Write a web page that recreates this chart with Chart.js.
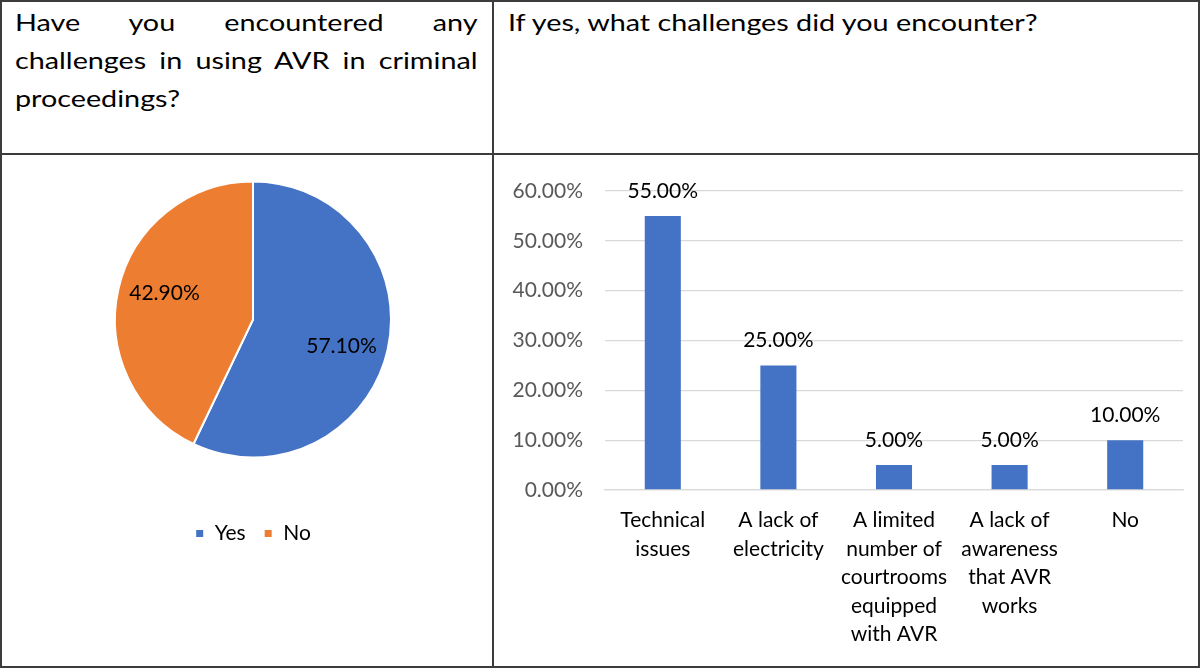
<!DOCTYPE html>
<html>
<head>
<meta charset="utf-8">
<script src="https://cdn.jsdelivr.net/npm/chart.js@4.4.1/dist/chart.umd.min.js"></script>
<style>
  html, body { margin:0; padding:0; background:#fff; }
  body { width:1200px; height:668px; position:relative; overflow:hidden; font-family: Lato, "Noto Sans", sans-serif; }
  .line { position:absolute; background:#3c3c3c; z-index:5; }
  .hdr { position:absolute; font-size:23px; line-height:38px; color:#000; transform:scaleX(1.25); transform-origin:0 0; }
  #hdrL { left:15px; top:3px; width:370px; text-align:justify; text-align-last:left; }
  #hdrR { left:508px; top:3px; width:540px; white-space:nowrap; }
  canvas { position:absolute; }
</style>
</head>
<body>
<div class="line" style="left:0;top:0;width:1200px;height:2px"></div>
<div class="line" style="left:0;top:666px;width:1200px;height:2px"></div>
<div class="line" style="left:0;top:0;width:2px;height:668px"></div>
<div class="line" style="left:1198px;top:0;width:2px;height:668px"></div>
<div class="line" style="left:492px;top:0;width:2px;height:668px"></div>
<div class="line" style="left:0;top:153px;width:1200px;height:2px"></div>

<div class="hdr" id="hdrL">Have you encountered any challenges in using AVR in criminal proceedings?</div>
<div class="hdr" id="hdrR">If yes, what challenges did you encounter?</div>

<div style="position:absolute;left:2px;top:155px;width:490px;height:511px"><canvas id="pie"></canvas></div>
<div style="position:absolute;left:494px;top:155px;width:703px;height:511px"><canvas id="bar"></canvas></div>

<script>
// ---- data ----
const pieLabels = ["Yes", "No"];
const pieValues = [57.1, 42.9];
const pieColors = ["#4472C4", "#ED7D31"];

const barCategories = [
  ["Technical", "issues"],
  ["A lack of", "electricity"],
  ["A limited", "number of", "courtrooms", "equipped", "with AVR"],
  ["A lack of", "awareness", "that AVR", "works"],
  ["No"]
];
const barValues = [55, 25, 5, 5, 10];
const yTickMax = 60;
const yTickStep = 10;

const FONT = "Lato, 'Noto Sans', sans-serif";
Chart.defaults.font.family = FONT;

function pct(v) { return v.toFixed(2) + "%"; }

// pie label plugin
const pieLabelPlugin = {
  id: "pieLabels",
  afterDatasetsDraw(chart) {
    const ctx = chart.ctx;
    const meta = chart.getDatasetMeta(0);
    ctx.save();
    ctx.font = "21px " + FONT;
    ctx.fillStyle = "#000";
    ctx.textAlign = "center";
    ctx.textBaseline = "middle";
    meta.data.forEach((arc, i) => {
      const p = arc.getProps(["x", "y", "startAngle", "endAngle", "outerRadius"], true);
      const mid = (p.startAngle + p.endAngle) / 2 + 0.07;
      const r = p.outerRadius * 0.67;
      ctx.fillText(pct(chart.data.datasets[0].data[i]), p.x + Math.cos(mid) * r, p.y + Math.sin(mid) * r);
    });
    ctx.restore();
  }
};

new Chart(document.getElementById("pie"), {
  type: "pie",
  data: {
    labels: pieLabels,
    datasets: [{ data: pieValues, backgroundColor: pieColors, borderColor: "#fff", borderWidth: 2, radius: 138 }]
  },
  options: {
    responsive: true,
    maintainAspectRatio: false,
    animation: false,
    layout: { padding: { left: 12, right: 0, top: 0, bottom: 112 } },
    plugins: {
      tooltip: { enabled: false },
      legend: {
        position: "bottom",
        title: { display: true, text: "", font: { size: 10, lineHeight: 1 }, padding: { top: 11, bottom: 0 } },
        labels: { boxWidth: 9, boxHeight: 9, padding: 18, color: "#000", font: { size: 21, family: FONT } }
      }
    }
  },
  plugins: [pieLabelPlugin]
});

// bar value labels
const barLabelPlugin = {
  id: "barLabels",
  afterDatasetsDraw(chart) {
    const ctx = chart.ctx;
    const meta = chart.getDatasetMeta(0);
    ctx.save();
    ctx.font = "21px " + FONT;
    ctx.fillStyle = "#000";
    ctx.textAlign = "center";
    ctx.textBaseline = "alphabetic";
    meta.data.forEach((bar, i) => {
      ctx.fillText(pct(chart.data.datasets[0].data[i]), bar.x, bar.y - 18);
    });
    ctx.restore();
  }
};

new Chart(document.getElementById("bar"), {
  type: "bar",
  data: {
    labels: barCategories,
    datasets: [{ data: barValues, backgroundColor: "#4472C4", categoryPercentage: 1, barPercentage: 0.312 }]
  },
  options: {
    responsive: true,
    maintainAspectRatio: false,
    animation: false,
    layout: { padding: { left: 0, right: 14, top: 36, bottom: 0 } },
    plugins: { legend: { display: false }, tooltip: { enabled: false } },
    scales: {
      y: {
        min: 0, max: yTickMax,
        afterFit(scale) { scale.width = 111; },
        border: { display: false },
        grid: { color: "#d9d9d9", lineWidth: 1.3, drawTicks: false },
        ticks: { stepSize: yTickStep, padding: 22, color: "#595959", font: { size: 21 }, callback: v => pct(v) }
      },
      x: {
        afterFit(scale) { scale.height = 176; },
        border: { display: true, color: "#d9d9d9", width: 1.3 },
        grid: { display: false, drawTicks: false },
        ticks: { padding: 16, color: "#000", font: { size: 21, lineHeight: 1.357 }, maxRotation: 0, autoSkip: false }
      }
    }
  },
  plugins: [barLabelPlugin]
});
</script>
</body>
</html>
